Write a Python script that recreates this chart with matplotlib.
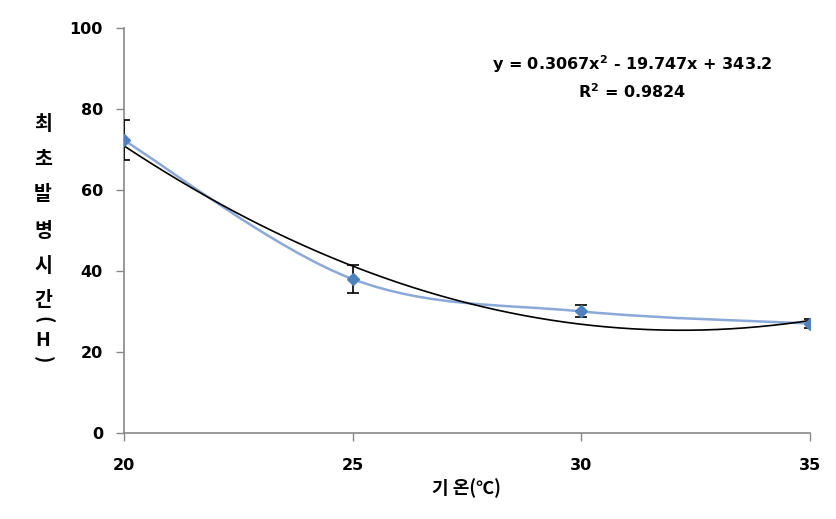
import matplotlib
matplotlib.use("Agg")
import matplotlib.pyplot as plt
import numpy as np
from matplotlib.path import Path
from matplotlib.patches import PathPatch

plt.rcParams['font.family'] = ['DejaVu Sans', 'Noto Sans CJK KR']
plt.rcParams['mathtext.fontset'] = 'dejavusans'

# data
temp = [20, 25, 30, 35]
hours = [72.3, 38.0, 30.0, 27.0]
err = [5.0, 3.5, 1.5, 1.0]
coef = [0.3067, -19.747, 343.2]
x_ticks = [20, 25, 30, 35]
y_ticks = [0, 20, 40, 60, 80, 100]
ylabel_chars = ['최', '초', '발', '병', '시', '간', '(', 'H', ')']

fig = plt.figure(figsize=(8.36, 5.19), dpi=100)
ax = fig.add_axes([0.148, 0.166, 0.821, 0.780])

# smoothed series line (Catmull-Rom as bezier path)
verts = [(temp[0], hours[0])]
codes = [Path.MOVETO]
n = len(temp)
for i in range(n - 1):
    p0 = np.array((temp[max(i - 1, 0)], hours[max(i - 1, 0)]))
    p1 = np.array((temp[i], hours[i]))
    p2 = np.array((temp[i + 1], hours[i + 1]))
    p3 = np.array((temp[min(i + 2, n - 1)], hours[min(i + 2, n - 1)]))
    c1 = p1 + (p2 - p0) / 6.0
    c2 = p2 - (p3 - p1) / 6.0
    verts += [tuple(c1), tuple(c2), tuple(p2)]
    codes += [Path.CURVE4] * 3
ax.add_patch(PathPatch(Path(verts, codes), fill=False, edgecolor='#8AA8D8', lw=1.8, zorder=2))

# polynomial trendline
xs = np.linspace(temp[0], temp[-1], 200)
ax.plot(xs, np.polyval(coef, xs), color='black', lw=1.2, zorder=3)

ax.errorbar(temp, hours, yerr=err, fmt='none', ecolor='black', elinewidth=1.2,
            capsize=4, capthick=1.2, zorder=4)
ax.plot(temp, hours, 'D', color='#4F81BD', ms=6, zorder=5)

ax.set_xlim(20, 35)
ax.set_ylim(0, 100)
ax.set_xticks(x_ticks)
ax.set_yticks(y_ticks)
for s in ['top', 'right']:
    ax.spines[s].set_visible(False)
for s in ['left', 'bottom']:
    ax.spines[s].set_color('#888888')
    ax.spines[s].set_linewidth(1.2)
ax.tick_params(axis='both', colors='#888888', length=6, width=1.0,
               labelcolor='black', labelsize=11.5)
ax.tick_params(axis='x', pad=12)
ax.tick_params(axis='y', pad=9)
for lbl in ax.get_xticklabels() + ax.get_yticklabels():
    lbl.set_fontweight('bold')

ax.set_xlabel('기 온(℃)', fontsize=13, fontweight='bold', labelpad=4,
              family=['Noto Sans CJK KR', 'DejaVu Sans'])

# stacked vertical y label
ypix = [125, 160, 195, 231, 267, 301, 320, 340, 360]
for ch, yp in zip(ylabel_chars, ypix):
    rot = 270 if ch in '()' else 0
    fig.text(43 / 836, 1 - yp / 519, ch, ha='center', va='center', fontsize=14,
             fontweight='bold', rotation=rot, family=['Noto Sans CJK KR', 'DejaVu Sans'])

fig.text(632 / 836, 1 - 64 / 519, 'y = 0.3067x$^{\\mathbf{2}}$ - 19.747x + 343.2', ha='center',
         va='center', fontsize=11.5, fontweight='bold')
fig.text(632 / 836, 1 - 92 / 519, 'R$^{\\mathbf{2}}$ = 0.9824', ha='center', va='center',
         fontsize=11.5, fontweight='bold')

fig.savefig('out.png', dpi=100)
